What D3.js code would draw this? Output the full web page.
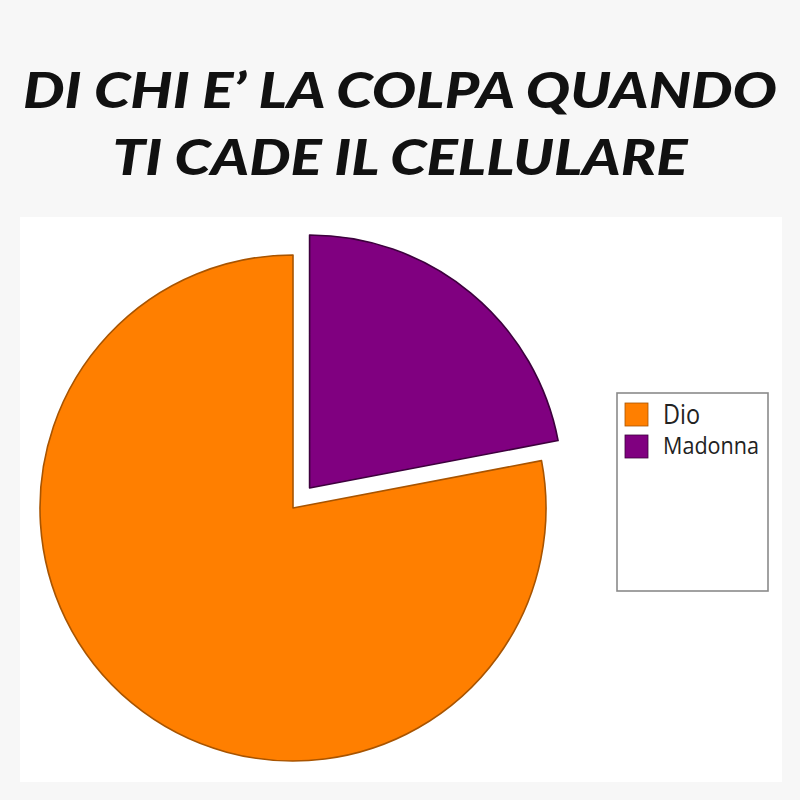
<!DOCTYPE html>
<html>
<head>
<meta charset="utf-8">
<script src="https://cdn.jsdelivr.net/npm/d3@7"></script>
<style>
  html, body { margin: 0; padding: 0; background: #f7f7f7; }
</style>
</head>
<body>
<div id="chart"></div>
<script>
// chart data
var titleLines = ["DI CHI E\u2019 LA COLPA QUANDO", "TI CADE IL CELLULARE"];
var labels = ["Dio", "Madonna"];
var values = [78, 22];
var colors = ["#ff7f00", "#800080"];
var strokes = ["#a85400", "#3d003d"];
var exploded = [0, 26];

var width = 800, height = 800;

var svg = d3.select("#chart")
  .append("svg")
  .attr("width", width)
  .attr("height", height);

svg.append("rect")
  .attr("width", width).attr("height", height)
  .attr("fill", "#f7f7f7");

// white panel behind the chart
svg.append("rect")
  .attr("x", 20).attr("y", 217)
  .attr("width", 762).attr("height", 565)
  .attr("fill", "#ffffff");

// title
var titleW = [754, 575];
svg.selectAll("text.title")
  .data(titleLines)
  .enter()
  .append("text")
  .attr("class", "title")
  .attr("x", 400)
  .attr("y", function (d, i) { return 108 + i * 67; })
  .attr("text-anchor", "middle")
  .attr("font-family", "Lato, 'Open Sans', sans-serif")
  .attr("font-weight", 900)
  .attr("font-style", "italic")
  .attr("font-size", 49)
  .attr("textLength", function (d, i) { return titleW[i]; })
  .attr("lengthAdjust", "spacingAndGlyphs")
  .attr("fill", "#111")
  .text(function (d) { return d; });

// pie
var radius = 253;
var g = svg.append("g").attr("transform", "translate(293,508)");

var share = values[1] / d3.sum(values);
var pie = d3.pie()
  .sort(null)
  .startAngle(-2 * Math.PI * (1 - share))
  .endAngle(2 * Math.PI * share);

var arc = d3.arc().innerRadius(0).outerRadius(radius);

var arcs = pie(values);

g.selectAll("path")
  .data(arcs)
  .enter()
  .append("path")
  .attr("d", arc)
  .attr("fill", function (d, i) { return colors[i]; })
  .attr("stroke", function (d, i) { return strokes[i]; })
  .attr("stroke-width", 1.6)
  .attr("stroke-linejoin", "round")
  .attr("transform", function (d, i) {
    var a = (d.startAngle + d.endAngle) / 2;
    var dx = Math.sin(a) * exploded[i];
    var dy = -Math.cos(a) * exploded[i];
    return "translate(" + dx + "," + dy + ")";
  });

// legend
var legend = svg.append("g").attr("transform", "translate(617,393)");

legend.append("rect")
  .attr("width", 151).attr("height", 198)
  .attr("fill", "#ffffff")
  .attr("stroke", "#8a8a8a")
  .attr("stroke-width", 1.6);

var sizes = [27, 23];
var lw = [37, 96];
var item = legend.selectAll("g.item")
  .data(labels)
  .enter()
  .append("g")
  .attr("class", "item")
  .attr("transform", function (d, i) { return "translate(8," + (10 + i * 32) + ")"; });

item.append("rect")
  .attr("width", 23).attr("height", 23)
  .attr("fill", function (d, i) { return colors[i]; })
  .attr("stroke", function (d, i) { return strokes[i]; })
  .attr("stroke-width", 0.8);

item.append("text")
  .attr("x", 38)
  .attr("y", function (d, i) { return i === 0 ? 21 : 19; })
  .attr("font-family", "'Open Sans', 'Noto Sans', sans-serif")
  .attr("font-size", function (d, i) { return sizes[i]; })
  .attr("textLength", function (d, i) { return lw[i]; })
  .attr("lengthAdjust", "spacingAndGlyphs")
  .attr("fill", "#222")
  .text(function (d) { return d; });
</script>
</body>
</html>
